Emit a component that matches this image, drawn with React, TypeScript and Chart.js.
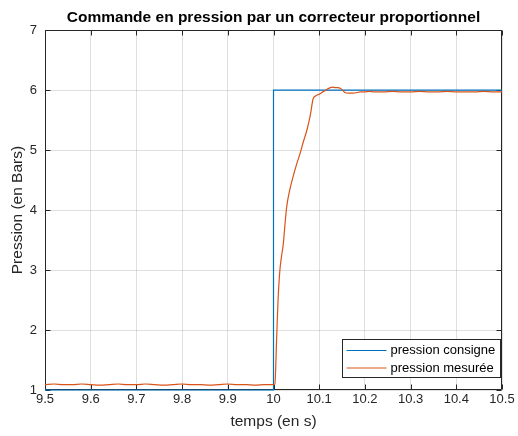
import React, { useEffect, useRef } from "react";
import { Chart, registerables } from "chart.js";

Chart.register(...registerables);

const TITLE = "Commande en pression par un correcteur proportionnel";
const X_LABEL = "temps (en s)";
const Y_LABEL = "Pression (en Bars)";
const SERIES_NAMES = ["pression consigne", "pression mesurée"];
const SERIES_COLORS = ["#0072BD", "#D95319"];

const consigneT = [9.5, 10.0, 10.0, 10.5];
const consigneP = [1, 1, 6, 6];

const mesureeT = [
  9.5, 9.52, 9.54, 9.56, 9.58, 9.6, 9.62, 9.64, 9.66, 9.68, 9.7, 9.72, 9.74,
  9.76, 9.78, 9.8, 9.82, 9.84, 9.86, 9.88, 9.9, 9.92, 9.94, 9.96, 9.98, 10.0,
  10.003, 10.007, 10.01, 10.014, 10.018, 10.0215, 10.025, 10.029, 10.036,
  10.043, 10.05, 10.058, 10.065, 10.073, 10.08, 10.087, 10.094, 10.102,
  10.108, 10.113, 10.119, 10.124, 10.13, 10.135, 10.141, 10.146, 10.151,
  10.156, 10.164, 10.175, 10.183, 10.19, 10.2, 10.21, 10.22, 10.24, 10.26,
  10.28, 10.3, 10.32, 10.34, 10.36, 10.38, 10.4, 10.42, 10.44, 10.46, 10.48,
  10.5,
];
const mesureeP = [
  1.09, 1.1, 1.09, 1.09, 1.1, 1.09, 1.08, 1.09, 1.1, 1.09, 1.09, 1.1, 1.09,
  1.08, 1.09, 1.1, 1.09, 1.09, 1.08, 1.09, 1.1, 1.09, 1.09, 1.08, 1.09, 1.09,
  1.1, 1.89, 2.5, 3.0, 3.25, 3.44, 3.75, 4.06, 4.35,
  4.56, 4.75, 4.94, 5.13, 5.33, 5.56, 5.86, 5.91, 5.94,
  5.97, 5.99, 6.02, 6.04, 6.05, 6.04, 6.04, 6.03, 6.0,
  5.96, 5.95, 5.95, 5.96, 5.97, 5.97, 5.98, 5.97, 5.97, 5.98,
  5.97, 5.97, 5.98, 5.97, 5.97, 5.98, 5.97, 5.97, 5.97, 5.98, 5.97,
  5.97,
];

const X_MIN = 9.5;
const X_MAX = 10.5;
const X_STEP = 0.1;
const Y_MIN = 1;
const Y_MAX = 7;
const Y_STEP = 1;

const FONT = "'Liberation Sans', Arial, Helvetica, sans-serif";
const AXIS_COLOR = "#262626";

const boxPlugin = {
  id: "matlabBox",
  beforeDatasetsDraw(chart: any) {
    const { ctx, chartArea } = chart;
    const { left, right, top, bottom } = chartArea;
    const L = Math.round(left) + 0.5;
    const R = Math.round(right) - 0.5;
    const T = Math.round(top) + 0.5;
    const B = Math.round(bottom) - 0.5;
    ctx.save();
    ctx.strokeStyle = AXIS_COLOR;
    ctx.lineWidth = 1;
    ctx.beginPath();
    ctx.moveTo(L, T);
    ctx.lineTo(R, T);
    ctx.lineTo(R, B);
    ctx.lineTo(L, B);
    ctx.closePath();
    ctx.stroke();
    const tl = 5;
    const xs = chart.scales.x;
    xs.ticks.forEach((t: any) => {
      const px = Math.round(xs.getPixelForValue(t.value)) + 0.5;
      ctx.beginPath();
      ctx.moveTo(px, B);
      ctx.lineTo(px, B - tl);
      ctx.moveTo(px, T);
      ctx.lineTo(px, T + tl);
      ctx.stroke();
    });
    const ys = chart.scales.y;
    ys.ticks.forEach((t: any) => {
      const py = Math.round(ys.getPixelForValue(t.value)) + 0.5;
      ctx.beginPath();
      ctx.moveTo(L, py);
      ctx.lineTo(L + tl, py);
      ctx.moveTo(R, py);
      ctx.lineTo(R - tl, py);
      ctx.stroke();
    });
    ctx.restore();
  },
};

const legendPlugin = {
  id: "insetLegend",
  afterDraw(chart: any) {
    const { ctx, chartArea } = chart;
    const right = Math.round(chartArea.right) - 1.5;
    const bottom = Math.round(chartArea.bottom) - 12.5;
    const w = 158;
    const h = 38;
    const left = right - w;
    const top = bottom - h;
    ctx.save();
    ctx.fillStyle = "#ffffff";
    ctx.fillRect(left, top, w, h);
    ctx.strokeStyle = AXIS_COLOR;
    ctx.lineWidth = 1;
    ctx.strokeRect(left, top, w, h);
    ctx.font = `13px ${FONT}`;
    ctx.textBaseline = "middle";
    ctx.textAlign = "left";
    SERIES_NAMES.forEach((name, i) => {
      const y = top + 11 + i * 17.5;
      ctx.strokeStyle = SERIES_COLORS[i];
      ctx.lineWidth = 1.2;
      ctx.beginPath();
      ctx.moveTo(left + 4, y);
      ctx.lineTo(left + 44, y);
      ctx.stroke();
      ctx.fillStyle = "#000000";
      ctx.fillText(name, left + 48, y);
    });
    ctx.restore();
  },
};

export default function App() {
  const ref = useRef<HTMLCanvasElement | null>(null);

  useEffect(() => {
    document.body.style.margin = "0";
    const canvas = ref.current;
    if (!canvas) return;
    const chart = new Chart(canvas, {
      type: "line",
      data: {
        datasets: [
          {
            label: SERIES_NAMES[0],
            data: consigneT.map((t, i) => ({ x: t, y: consigneP[i] })),
            borderColor: SERIES_COLORS[0],
            backgroundColor: SERIES_COLORS[0],
            borderWidth: 1.2,
            pointRadius: 0,
            tension: 0,
            clip: 5,
            order: 1,
          },
          {
            label: SERIES_NAMES[1],
            data: mesureeT.map((t, i) => ({ x: t, y: mesureeP[i] })),
            borderColor: SERIES_COLORS[1],
            backgroundColor: SERIES_COLORS[1],
            borderWidth: 1.2,
            pointRadius: 0,
            cubicInterpolationMode: "monotone",
            clip: 5,
            order: 0,
          },
        ],
      },
      options: {
        responsive: false,
        animation: false,
        events: [],
        layout: { padding: { left: 0, right: 16, top: 0, bottom: 0 } },
        plugins: {
          legend: { display: false },
          tooltip: { enabled: false },
          title: {
            display: true,
            text: TITLE,
            fullSize: false,
            color: "#000000",
            font: { family: FONT, size: 15.5, weight: "bold", lineHeight: 1.2 },
            padding: { top: 8, bottom: 3.5 },
          },
        },
        scales: {
          x: {
            type: "linear",
            min: X_MIN,
            max: X_MAX,
            afterFit(scale: any) {
              scale.height = 46;
            },
            afterBuildTicks(scale: any) {
              const ticks = [];
              const n = Math.round((X_MAX - X_MIN) / X_STEP);
              for (let i = 0; i <= n; i++) ticks.push({ value: +(X_MIN + i * X_STEP).toFixed(1) });
              scale.ticks = ticks;
            },
            ticks: {
              padding: 2,
              color: AXIS_COLOR,
              font: { family: FONT, size: 13 },
              maxRotation: 0,
              autoSkip: false,
              callback: (v: any) => String(Number(Number(v).toFixed(1))),
            },
            grid: { color: "rgba(38,38,38,0.15)", drawTicks: false },
            border: { display: false },
            title: {
              display: true,
              text: X_LABEL,
              color: AXIS_COLOR,
              font: { family: FONT, size: 15.5 },
              padding: { top: 0, bottom: 5 },
            },
          },
          y: {
            type: "linear",
            min: Y_MIN,
            max: Y_MAX,
            afterFit(scale: any) {
              scale.width = 45;
            },
            ticks: {
              stepSize: Y_STEP,
              padding: 8,
              color: AXIS_COLOR,
              font: { family: FONT, size: 13 },
            },
            grid: { color: "rgba(38,38,38,0.15)", drawTicks: false },
            border: { display: false },
            title: {
              display: true,
              text: Y_LABEL,
              color: AXIS_COLOR,
              font: { family: FONT, size: 15.5 },
              padding: { top: 8, bottom: 0 },
            },
          },
        },
      },
      plugins: [boxPlugin, legendPlugin],
    } as any);
    return () => chart.destroy();
  }, []);

  return (
    <div style={{ width: 518, height: 436, background: "#ffffff" }}>
      <canvas ref={ref} width={518} height={436} />
    </div>
  );
}
